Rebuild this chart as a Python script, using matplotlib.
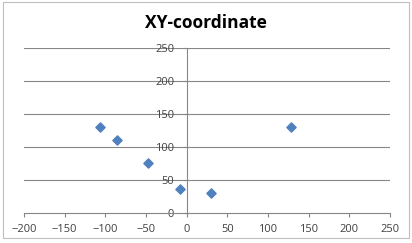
import matplotlib
matplotlib.use("Agg")
import matplotlib.pyplot as plt
from matplotlib.patches import Rectangle

# punti
x_vals = [-107, -85, -47, -8, 30, 128]
y_vals = [130, 111, 75, 36, 30, 130]
x_ticks = [-200, -150, -100, -50, 0, 50, 100, 150, 200, 250]
y_ticks = [0, 50, 100, 150, 200, 250]

fig = plt.figure(figsize=(4.12, 2.43), dpi=100)
ax = fig.add_axes([0.058, 0.1235, 0.889, 0.679])

# bordo esterno del grafico
fig.patches.append(Rectangle((0.007, 0.022), 0.985, 0.968, transform=fig.transFigure,
                             fill=False, edgecolor="#bfbfbf", linewidth=0.8))

ax.scatter(x_vals, y_vals, marker="D", s=22, color="#4F81BD", zorder=3)

ax.set_xlim(-200, 250)
ax.set_ylim(0, 250)
ax.set_xticks(x_ticks)
ax.set_yticks(y_ticks)

for y in y_ticks[1:]:
    ax.axhline(y, color="#868686", linewidth=0.8, zorder=1)

ax.spines["left"].set_position(("data", 0))
ax.spines["right"].set_visible(False)
ax.spines["top"].set_visible(False)
for s in ["left", "bottom"]:
    ax.spines[s].set_color("#868686")
    ax.spines[s].set_linewidth(0.8)

ax.tick_params(axis="both", colors="#868686", labelcolor="#404040", labelsize=8,
               length=3, width=0.8)
ax.tick_params(axis="y", pad=6)
ax.tick_params(axis="x", pad=5)
for lab in ax.get_xticklabels() + ax.get_yticklabels():
    lab.set_fontfamily("Open Sans")

fig.text(0.5, 0.905, "XY-coordinate", ha="center", va="center", fontsize=12.5,
         fontweight="bold", fontfamily="Open Sans", color="black")

fig.savefig("out.png", dpi=100)
